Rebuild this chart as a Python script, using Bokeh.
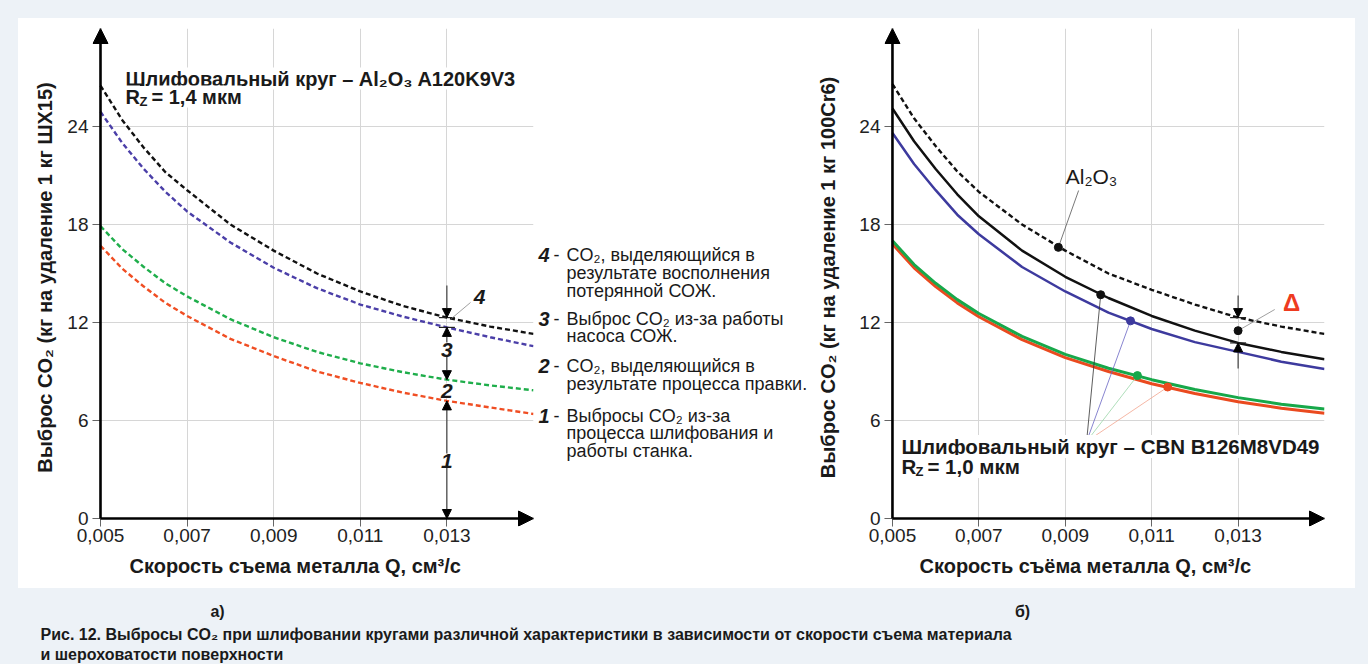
from math import pi
from bokeh.plotting import figure
from bokeh.models import Range1d, FixedTicker, CustomJSTickFormatter, Label, Arrow, NormalHead, Title
from bokeh.layouts import column, row
from bokeh.embed import file_html
from bokeh.resources import INLINE

FN = "Liberation Sans"
BG = "#edf2f7"
GRID = "#d6d6d6"
INK = "#1a1a1a"

# ---------------- data ----------------
Q = [0.005, 0.0055, 0.006, 0.0065, 0.007, 0.008, 0.009, 0.010, 0.011, 0.012, 0.013, 0.014, 0.015]
X_TICKS = [0.005, 0.007, 0.009, 0.011, 0.013]
Y_TICKS = [0, 6, 12, 18, 24]
Y_MAX = 30

# chart a) Al2O3 wheel (dashed)
a_total = [26.5, 24.4, 22.7, 21.2, 20.1, 18.0, 16.4, 15.0, 13.9, 13.0, 12.3, 11.75, 11.3]   # 4
a_pump = [24.9, 23.0, 21.4, 20.0, 18.8, 16.9, 15.35, 14.1, 13.1, 12.35, 11.7, 11.1, 10.55]  # 3
a_dress = [17.9, 16.5, 15.4, 14.4, 13.6, 12.2, 11.1, 10.2, 9.5, 8.95, 8.5, 8.15, 7.85]      # 2
a_grind = [16.7, 15.3, 14.2, 13.2, 12.4, 11.0, 9.95, 9.0, 8.3, 7.7, 7.2, 6.8, 6.4]          # 1

# chart b) CBN wheel (solid) vs Al2O3 total (dashed)
b_al2o3 = [26.6, 24.5, 22.8, 21.25, 20.0, 18.0, 16.4, 15.0, 14.0, 13.1, 12.3, 11.75, 11.3]
b_total = [25.1, 23.1, 21.4, 19.85, 18.5, 16.4, 14.8, 13.5, 12.4, 11.5, 10.75, 10.2, 9.75]
b_pump = [23.6, 21.7, 20.1, 18.6, 17.4, 15.4, 13.9, 12.6, 11.6, 10.8, 10.2, 9.6, 9.15]
b_dress = [17.0, 15.55, 14.4, 13.4, 12.55, 11.15, 10.05, 9.2, 8.5, 7.9, 7.4, 7.0, 6.7]
b_grind = [16.8, 15.35, 14.2, 13.2, 12.35, 10.95, 9.85, 9.0, 8.25, 7.65, 7.15, 6.75, 6.45]

b_marker_q = [0.00982, 0.01051, 0.01067, 0.01137]
b_marker_v = [13.7, 12.1, 8.75, 8.05]
b_marker_c = ["#111111", "#3d3a9e", "#17a84a", "#ea4a1f"]
b_leader_c = ["#333333", "#6a66c4", "#9ad6a8", "#f3a58e"]
al_marker_q, al_marker_v = 0.00884, 16.6
delta_v = 11.5

i13 = Q.index(0.013)
x13 = Q[i13]

# ---------------- geometry (page pixels) ----------------
PAD = 8          # frame extends PAD px left of / below the drawn axes
TOP, BOT = 28, 518


def base_fig(width, axis_px, right_px, fig_left, ylabel_standoff, xlabel, xlabel_left, ylabel):
    span = right_px - axis_px                       # pixels for 0.005 .. 0.015
    x0 = Q[-1] - (Q[-1] - Q[0]) * (span + PAD) / span
    y0 = -Y_MAX * PAD / (BOT - TOP)
    p = figure(width=width, height=570, x_range=Range1d(x0, Q[-1]), y_range=Range1d(y0, Y_MAX),
               output_backend="svg", toolbar_location=None,
               min_border_left=axis_px - PAD - fig_left,
               min_border_right=width - (right_px - fig_left),
               min_border_top=TOP - 18, min_border_bottom=588 - (BOT + PAD))
    p.border_fill_color = "white"
    p.background_fill_color = "white"
    p.outline_line_color = None
    p.xaxis.ticker = FixedTicker(ticks=X_TICKS)
    p.yaxis.ticker = FixedTicker(ticks=Y_TICKS)
    p.xgrid.ticker = FixedTicker(ticks=X_TICKS + [Q[-1]])
    p.ygrid.ticker = FixedTicker(ticks=Y_TICKS + [Y_MAX])
    p.xaxis.formatter = CustomJSTickFormatter(code="return tick.toFixed(3).replace('.', ',');")
    p.grid.grid_line_color = GRID
    p.axis.axis_line_color = None
    p.axis.major_tick_line_color = "#666666"
    p.axis.major_tick_in = PAD
    p.axis.major_tick_out = 0
    p.axis.minor_tick_line_color = None
    p.axis.major_label_text_font = FN
    p.axis.major_label_text_font_size = "19px"
    p.axis.major_label_text_color = "#222222"
    p.xaxis.major_label_standoff = 2
    p.yaxis.major_label_standoff = 4
    p.yaxis.axis_label = ylabel
    p.yaxis.axis_label_text_font = FN
    p.yaxis.axis_label_text_font_style = "bold"
    p.yaxis.axis_label_text_font_size = "20px"
    p.yaxis.axis_label_text_color = INK
    p.yaxis.axis_label_standoff = ylabel_standoff
    p.add_layout(Title(text=xlabel, align="left", offset=xlabel_left - (axis_px - PAD),
                       text_font=FN, text_font_size="20px", text_font_style="bold",
                       text_color=INK, standoff=16), "below")
    # axis lines with arrows
    p.add_layout(Arrow(end=NormalHead(size=15, fill_color="black", line_color="black"),
                       x_start=Q[0], y_start=0, x_end=Q[0], y_end=Y_MAX,
                       line_color="black", line_width=2.6))
    p.add_layout(Arrow(end=NormalHead(size=15, fill_color="black", line_color="black"),
                       x_start=Q[0], y_start=0, x_end=Q[-1], y_end=0,
                       line_color="black", line_width=2.6))
    return p


def txt(p, x, y, s, size, bold=False, italic=False, color=INK, align="left",
        baseline="middle", bg=None, xo=0, yo=0):
    style = "bold italic" if (bold and italic) else ("bold" if bold else ("italic" if italic else "normal"))
    lab = Label(x=x, y=y, text=s, text_font=FN, text_font_size=f"{size}px", text_font_style=style,
                text_color=color, text_align=align, text_baseline=baseline,
                x_offset=xo, y_offset=yo)
    if bg:
        lab.background_fill_color = bg
    p.add_layout(lab)


def LQ(X):
    return 0.005 + (X - 100) / 433 * 0.01


def RQ(X):
    return 0.005 + (X - 890) / 434 * 0.01


def V(Y):
    return (BOT - Y) / (BOT - TOP) * Y_MAX


def head():
    return NormalHead(size=9, fill_color="black", line_color="black")


DASH = "5 3"

# ---------------- chart a ----------------
pa = base_fig(517, 100, 533, 18, 8, "Скорость съема металла Q, см³/с", 129,
              "Выброс CO₂ (кг на удаление 1 кг ШХ15)")
pa.line(Q, a_grind, line_color="#f04e23", line_width=2.4, line_dash=DASH)
pa.line(Q, a_dress, line_color="#1fae4b", line_width=2.4, line_dash=DASH)
pa.line(Q, a_pump, line_color="#4b3fa8", line_width=2.4, line_dash=DASH)
pa.line(Q, a_total, line_color="#111111", line_width=2.4, line_dash=DASH)

pa.add_layout(Arrow(end=head(), x_start=x13, y_start=V(285), x_end=x13, y_end=a_total[i13],
                    line_color="#222222", line_width=1))
pa.add_layout(Arrow(start=head(), end=head(), x_start=x13, y_start=a_pump[i13], x_end=x13,
                    y_end=a_dress[i13], line_color="#222222", line_width=1))
pa.add_layout(Arrow(start=head(), end=head(), x_start=x13, y_start=a_grind[i13], x_end=x13,
                    y_end=0, line_color="#222222", line_width=1))
pa.scatter([x13, x13], [a_total[i13], a_pump[i13]], marker="dash", size=16, line_color="#222222",
           line_width=1.2)
pa.segment(x0=[LQ(451)], y0=[V(318)], x1=[LQ(470)], y1=[V(302)], line_color="#888888", line_width=0.8)
txt(pa, LQ(479), V(296), "4", 21, bold=True, italic=True, align="center")
txt(pa, x13, V(349), "3", 21, bold=True, italic=True, align="center", bg="white")
txt(pa, x13, V(390), "2", 21, bold=True, italic=True, align="center", bg="white")
txt(pa, x13, V(460), "1", 21, bold=True, italic=True, align="center", bg="white")

txt(pa, LQ(125), V(78), "Шлифовальный круг – Al₂O₃  A120K9V3", 20, bold=True, bg="white")
txt(pa, LQ(125), V(96), "R", 20, bold=True, bg="white")
txt(pa, LQ(125), V(96), "Z", 13, bold=True, xo=14, yo=-5)
txt(pa, LQ(125), V(96), "= 1,4 мкм", 20, bold=True, xo=26, bg="white")

# ---------------- legend panel (between charts) ----------------
pl = figure(width=279, height=570, x_range=Range1d(535, 814), y_range=Range1d(-588, -18),
            output_backend="svg", toolbar_location=None, min_border=0,
            x_axis_type=None, y_axis_type=None)
pl.outline_line_color = None
pl.background_fill_color = "white"
pl.border_fill_color = "white"
legend = [
    ("4", ["CO₂, выделяющийся в", "результате восполнения", "потерянной СОЖ."], 277),
    ("3", ["Выброс CO₂ из-за работы", "насоса СОЖ."], 350),
    ("2", ["CO₂, выделяющийся в", "результате процесса правки."], 404),
    ("1", ["Выбросы CO₂ из-за", "процесса шлифования и", "работы станка."], 461),
]
for num, lines, y0 in legend:
    txt(pl, 538, -y0, num, 20, bold=True, italic=True)
    txt(pl, 553, -y0, "-", 18)
    for k, ln in enumerate(lines):
        txt(pl, 566, -(y0 + 20.5 * k), ln, 18)

# ---------------- chart b ----------------
pb = base_fig(541, 890, 1324, 814, 17, "Скорость съёма металла Q, см³/с", 917,
              "Выброс CO₂ (кг на удаление 1 кг 100Cr6)")
pb.line(Q, b_al2o3, line_color="#111111", line_width=2.4, line_dash=DASH)
pb.line(Q, b_total, line_color="#111111", line_width=2.5)
pb.line(Q, b_pump, line_color="#3d3a9e", line_width=2.5)
pb.line(Q, b_grind, line_color="#ea4a1f", line_width=3)
pb.line(Q, b_dress, line_color="#17a84a", line_width=3)

conv_q, conv_v = RQ(1085), V(441)
pb.segment(x0=b_marker_q, y0=b_marker_v, x1=[conv_q] * 4, y1=[conv_v] * 4,
           line_color=b_leader_c, line_width=0.8)
pb.scatter(b_marker_q, b_marker_v, size=8, fill_color=b_marker_c, line_color=b_marker_c)

pb.segment(x0=[al_marker_q], y0=[al_marker_v], x1=[RQ(1077)], y1=[V(190)], line_color="#555555",
           line_width=0.8)
pb.scatter([al_marker_q], [al_marker_v], size=8, fill_color="#111111", line_color="#111111")
txt(pb, RQ(1090), V(176), "Al₂O₃", 21, align="center")

pb.add_layout(Arrow(end=head(), x_start=x13, y_start=V(295), x_end=x13, y_end=b_al2o3[i13],
                    line_color="#222222", line_width=1))
pb.add_layout(Arrow(end=head(), x_start=x13, y_start=V(368), x_end=x13, y_end=b_total[i13],
                    line_color="#222222", line_width=1))
pb.scatter([x13, x13], [b_al2o3[i13], b_total[i13]], marker="dash", size=16, line_color="#222222",
           line_width=1.2)
pb.segment(x0=[x13], y0=[delta_v], x1=[RQ(1274)], y1=[V(309)], line_color="#888888", line_width=0.8)
pb.scatter([x13], [delta_v], size=8, fill_color="#111111", line_color="#111111")
txt(pb, RQ(1291), V(302), "Δ", 24, bold=True, color="#ee3b1f", align="center")

txt(pb, RQ(899), V(446), "Шлифовальный круг – CBN  B126M8VD49", 20.5, bold=True, bg="white")
txt(pb, RQ(899), V(466), "R", 20.5, bold=True, bg="white")
txt(pb, RQ(899), V(466), "Z", 13, bold=True, xo=14, yo=-5)
txt(pb, RQ(899), V(466), "= 1,0 мкм", 20.5, bold=True, xo=26, bg="white")

# ---------------- caption ----------------
pc = figure(width=1368, height=76, x_range=Range1d(0, 1368), y_range=Range1d(-664, -588),
            output_backend="svg", toolbar_location=None, min_border=0,
            x_axis_type=None, y_axis_type=None)
pc.outline_line_color = None
pc.background_fill_color = BG
pc.border_fill_color = BG
txt(pc, 217, -611, "а)", 16, bold=True, align="center")
txt(pc, 1022, -611, "б)", 16, bold=True, align="center")
txt(pc, 40, -634, "Рис. 12. Выбросы CO₂ при шлифовании кругами различной характеристики в зависимости "
                  "от скорости съема материала", 16, bold=True)
txt(pc, 40, -654, "и шероховатости поверхности", 16, bold=True)

top = row(pa, pl, pb, margin=(18, 0, 0, 18), styles={"background-color": "white"})
page = column(top, pc, styles={"background-color": BG})

open("out.html", "w").write(file_html(page, INLINE))
